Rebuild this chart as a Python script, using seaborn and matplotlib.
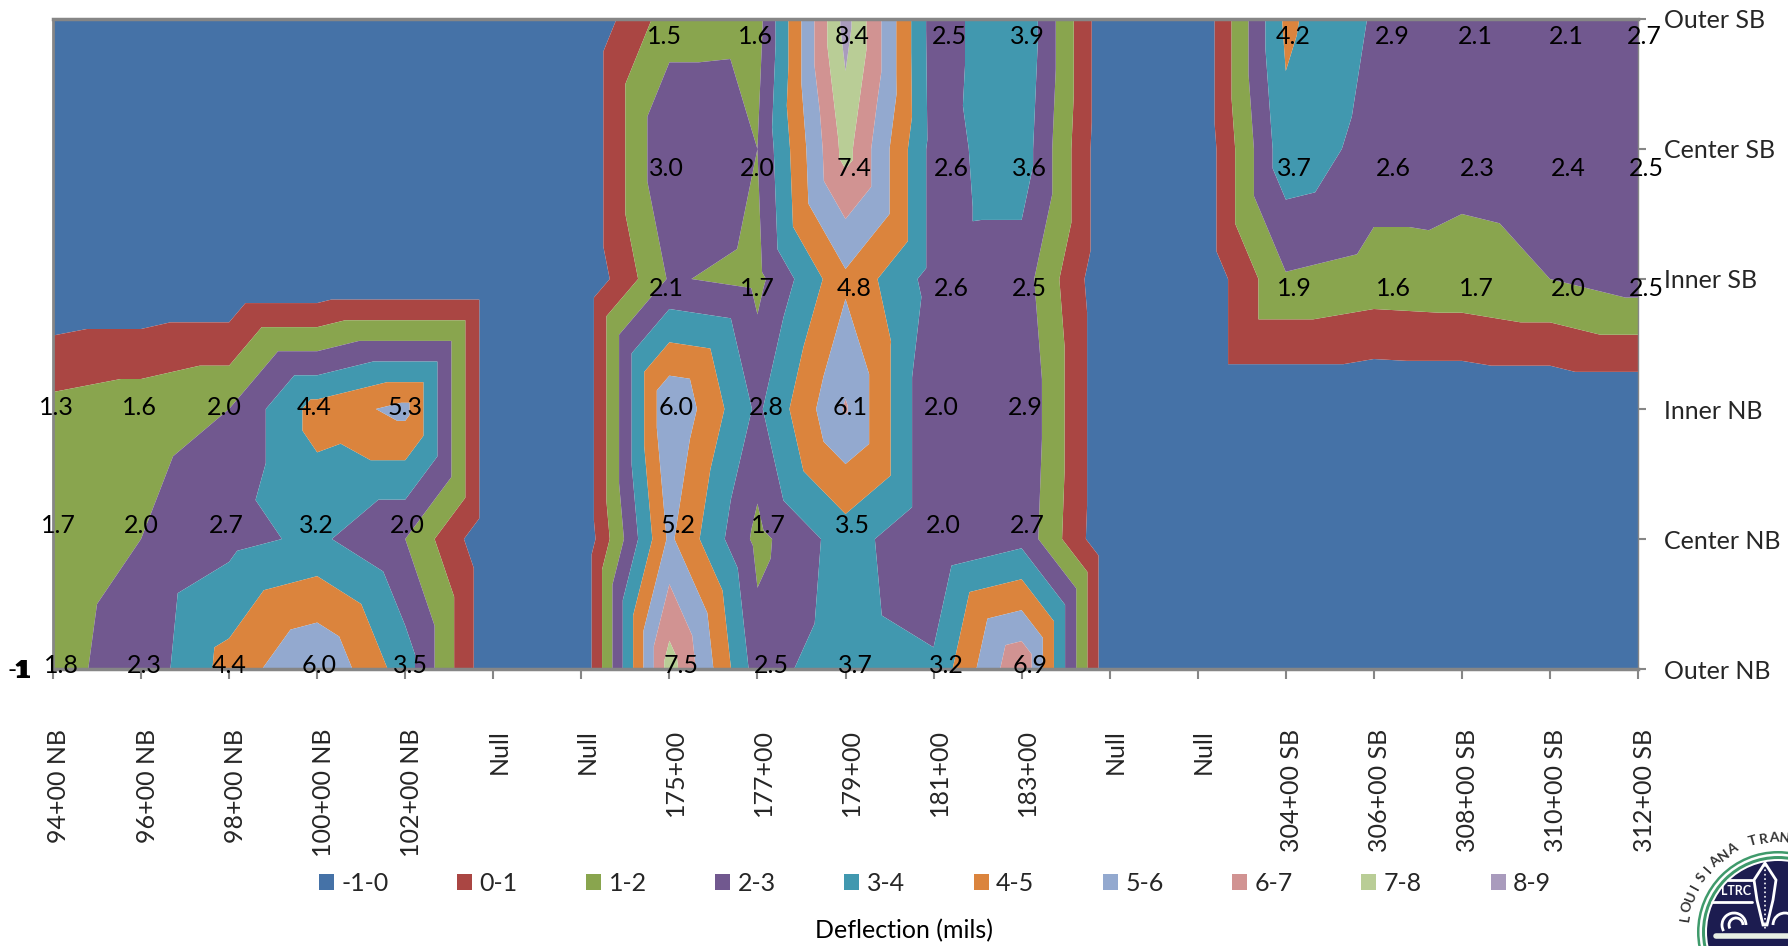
import matplotlib
matplotlib.use("Agg")
import matplotlib.pyplot as plt
import matplotlib.tri as mtri
from matplotlib.patches import Patch, Circle, Polygon, Arc
from matplotlib.transforms import ScaledTranslation
import numpy as np
import seaborn as sns

sns.set_theme(style="white")
plt.rcParams['font.family'] = ['Lato', 'DejaVu Sans']

stations = ["94+00 NB", "96+00 NB", "98+00 NB", "100+00 NB", "102+00 NB", "Null", "Null",
            "175+00", "177+00", "179+00", "181+00", "183+00", "Null", "Null",
            "304+00 SB", "306+00 SB", "308+00 SB", "310+00 SB", "312+00 SB"]
lanes = ["Outer NB", "Center NB", "Inner NB", "Inner SB", "Center SB", "Outer SB"]
outer_nb = [1.8, 2.3, 4.4, 6.0, 3.5, -1, -1, 7.5, 2.5, 3.7, 3.2, 6.9, -1, -1, -1, -1, -1, -1, -1]
center_nb = [1.7, 2.0, 2.7, 3.2, 2.0, -1, -1, 5.2, 1.7, 3.5, 2.0, 2.7, -1, -1, -1, -1, -1, -1, -1]
inner_nb = [1.3, 1.6, 2.0, 4.4, 5.3, -1, -1, 6.0, 2.8, 6.1, 2.0, 2.9, -1, -1, -1, -1, -1, -1, -1]
inner_sb = [-1, -1, -1, -1, -1, -1, -1, 2.1, 1.7, 4.8, 2.6, 2.5, -1, -1, 1.9, 1.6, 1.7, 2.0, 2.5]
center_sb = [-1, -1, -1, -1, -1, -1, -1, 3.0, 2.0, 7.4, 2.6, 3.6, -1, -1, 3.7, 2.6, 2.3, 2.4, 2.5]
outer_sb = [-1, -1, -1, -1, -1, -1, -1, 1.5, 1.6, 8.4, 2.5, 3.9, -1, -1, 4.2, 2.9, 2.1, 2.1, 2.7]
band_labels = ["-1-0", "0-1", "1-2", "2-3", "3-4", "4-5", "5-6", "6-7", "7-8", "8-9"]
band_colors = ["#4572A7", "#AA4643", "#89A54E", "#71588F", "#4198AF", "#DB843D",
               "#93A9CF", "#D19392", "#B9CD96", "#A99BBD"]
axis_title = "Deflection (mils)"
seal_text = "LOUISIANA TRAN"

Z = np.array([outer_nb, center_nb, inner_nb, inner_sb, center_sb, outer_sb], dtype=float)
ny, nx = Z.shape
levels = np.arange(-1, 10)

W, H = 1788, 946
fig = plt.figure(figsize=(W / 100, H / 100), dpi=100, facecolor="white")
L, R, T, B = 53, 1638, 19, 669
ax = fig.add_axes([L / W, 1 - B / H, (R - L) / W, (B - T) / H])

# Each cell is split in four triangles round the midrange of its corners,
# which gives the square-cornered bands of the spreadsheet surface chart
gx, gy = np.meshgrid(np.arange(nx), np.arange(ny))
cx, cy = np.meshgrid(np.arange(nx - 1) + .5, np.arange(ny - 1) + .5)
corners = np.stack([Z[:-1, :-1], Z[1:, :-1], Z[:-1, 1:], Z[1:, 1:]])
cz = (corners.max(axis=0) + corners.min(axis=0)) / 2
px = np.r_[gx.ravel(), cx.ravel()]
py = np.r_[gy.ravel(), cy.ravel()]
pz = np.r_[Z.ravel(), cz.ravel()]
tris = []
for j in range(ny - 1):
    for i in range(nx - 1):
        a, b = j * nx + i, j * nx + i + 1
        c, d = (j + 1) * nx + i + 1, (j + 1) * nx + i
        m = nx * ny + j * (nx - 1) + i
        tris += [(a, b, m), (b, c, m), (c, d, m), (d, a, m)]
ax.tricontourf(mtri.Triangulation(px, py, np.array(tris)), pz, levels=levels,
               colors=band_colors, antialiased=True)
ax.set_xlim(0, nx - 1)
ax.set_ylim(0, ny - 1)

ax.set_xticks(range(nx))
ax.set_xticklabels(stations, rotation=90, fontsize=18, va="top", ha="center")
ax.tick_params(axis="x", length=7, width=1.5, color="#868686", pad=36, bottom=True)
for lab in ax.get_xticklabels():
    lab.set_transform(lab.get_transform() + ScaledTranslation(6 / 100, 0, fig.dpi_scale_trans))
ax.yaxis.tick_right()
ax.set_yticks(range(ny))
ax.set_yticklabels(lanes, fontsize=18)
ax.tick_params(axis="y", length=6, width=1.5, color="#868686", pad=12.5, right=True)
for name, lw in (("left", 2), ("top", 2.5), ("bottom", 2.5), ("right", 1)):
    ax.spines[name].set_visible(True)
    ax.spines[name].set_color("#868686")
    ax.spines[name].set_linewidth(lw)

# Data labels: hand placed in the source, offsets are in pixels
low_dx = [3, -2, -5, -3, 0, 0, 0, 7, 9, 5, 8, 4, 0, 0, 0, 0, 0, 0, 0]
up_dx = [0, 0, 0, 0, 0, 0, 0, -3, 0, 9, 18, 8, 0, 0, 9, 20, 15, 18, 8]
row_dx = [5, 2, 0, 0, 0, -2]
row_dy = [4, 14, 2, -9, -19, -17]
for j in range(ny):
    for i in range(nx):
        if Z[j, i] < 0:
            continue
        dx = (low_dx[i] if j < 3 else up_dx[i]) + row_dx[j]
        ax.annotate(f"{Z[j, i]:.1f}", (i, j), xytext=(dx * .72, row_dy[j] * .72),
                    textcoords="offset points", ha="center", va="center",
                    fontsize=18, color="black", annotation_clip=False)

# The overlapping "-1" labels of the empty cells pile up at the origin
ax.annotate("-", (0, 0), xytext=(-41 * .72, -1 * .72), textcoords="offset points",
            ha="center", va="center", fontsize=18, color="black", annotation_clip=False)
for off in (-32.5, -31, -29.5):
    ax.annotate("1", (0, 0), xytext=(off * .72, -1 * .72), textcoords="offset points",
                ha="center", va="center", fontsize=18, fontweight="black", color="black",
                annotation_clip=False)

handles = [Patch(facecolor=c, edgecolor="none") for c in band_colors]
fig.legend(handles, band_labels, ncols=10, loc="center", bbox_to_anchor=(935 / W, 1 - 883 / H),
           frameon=False, fontsize=18, handlelength=.6, handleheight=.6, handletextpad=.3,
           columnspacing=2.74)
fig.text(904 / W, 1 - 931 / H, axis_title, ha="center", va="center", fontsize=18, color="black")

# Seal in the bottom right corner
sax = fig.add_axes([0, 0, 1, 1], facecolor="none")
sax.set_xlim(0, W)
sax.set_ylim(H, 0)
sax.axis("off")
sc = (1778, 932)
navy, green = "#1C1C50", "#3F9A6B"
for r, col in ((81, green), (78.5, "#FFFFFF"), (76, green), (73, "#FFFFFF"), (71, navy)):
    sax.add_patch(Circle(sc, r, facecolor=col, edgecolor="none"))
sax.plot([1728, 1752], [880, 880], color="white", lw=2)
sax.plot([1712, 1752], [902, 902], color="white", lw=2)
sax.text(1736, 891, "LTRC", color="white", fontsize=9, ha="center", va="center", fontweight="bold")
sax.add_patch(Polygon([(1765, 863), (1754, 880), (1757, 900), (1763, 925), (1767, 925),
                       (1773, 900), (1776, 880)], closed=True, facecolor="none",
                      edgecolor="white", lw=2))
sax.plot([1765, 1765], [865, 930], color="white", lw=1.2, ls=":")
for cxx, r0 in ((1734, 12), (1736, 7)):
    sax.add_patch(Arc((cxx, 925), 2 * r0, 2 * r0, theta1=150, theta2=360, color="white", lw=2))
sax.add_patch(Arc((1785, 925), 24, 24, theta1=180, theta2=300, color="white", lw=2))
sax.plot([1716, 1788], [936, 936], color="#E8EFE4", lw=4)
for ch, ang in zip(seal_text, np.linspace(171, 86, len(seal_text))):
    th = np.deg2rad(ang)
    sax.text(sc[0] + 94 * np.cos(th), sc[1] - 94 * np.sin(th), ch, rotation=ang - 90,
             rotation_mode="anchor", ha="center", va="center", fontsize=10, fontweight="bold",
             color="#333333", clip_on=True)
fig.savefig("out.png", dpi=100)
